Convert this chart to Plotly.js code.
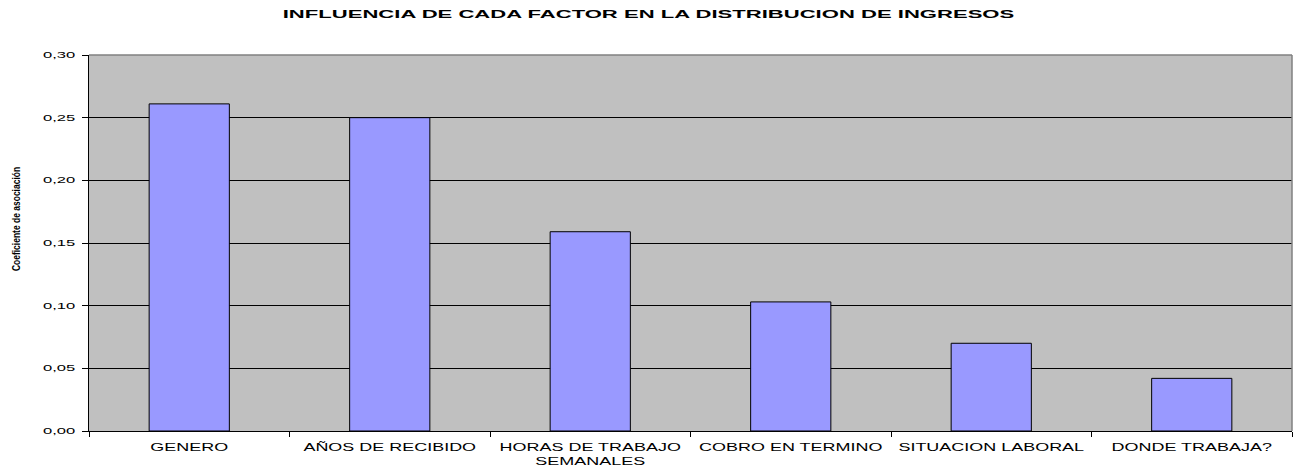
<!DOCTYPE html>
<html>
<head>
<meta charset="utf-8">
<script src="https://cdn.plot.ly/plotly-3.0.1.min.js"></script>
<style>
html,body{margin:0;padding:0;background:#fff;}
#chart{width:1297px;height:470px;}
</style>
</head>
<body>
<div id="chart"></div>
<script>
const chartTitle = "INFLUENCIA DE CADA FACTOR EN LA DISTRIBUCION DE INGRESOS";
const yTitle = "Coeficiente de asociación";
const categories = ["GENERO", "AÑOS DE RECIBIDO", "HORAS DE TRABAJO<br>SEMANALES", "COBRO EN TERMINO", "SITUACION LABORAL", "DONDE TRABAJA?"];
const coefValues = [0.261, 0.250, 0.159, 0.103, 0.070, 0.042];
const yTickVals = [0, 0.05, 0.10, 0.15, 0.20, 0.25, 0.30];

const FONT = "Liberation Sans, Arial, sans-serif";

const trace = {
  type: "bar",
  x: categories,
  y: coefValues,
  marker: {color: "#9999FF", line: {color: "#000000", width: 1}},
  hoverinfo: "skip"
};

const layout = {
  width: 1297, height: 470,
  margin: {l: 89, r: 5, t: 55, b: 39, pad: 0},
  paper_bgcolor: "#FFFFFF",
  plot_bgcolor: "#C0C0C0",
  separators: ", ",
  bargap: 0.6,
  showlegend: false,
  font: {family: FONT, color: "#000000", size: 11},
  title: {
    text: chartTitle,
    font: {family: FONT, size: 11.5, weight: "bold", color: "#000000"},
    x: 0.5, xanchor: "center",
    yref: "container", y: 1 - 14/470, yanchor: "middle"
  },
  xaxis: {
    type: "category",
    showgrid: false,
    showline: true, linecolor: "#000000", linewidth: 1,
    ticks: "outside", tickson: "boundaries", ticklen: 5, tickcolor: "#000000", tickwidth: 1,
    tickfont: {family: FONT, size: 10.7, color: "#000000"},
    ticklabelstandoff: 6,
    tickangle: 0,
    fixedrange: true
  },
  yaxis: {
    range: [0, 0.30],
    tickvals: yTickVals,
    tickformat: ".2f",
    showgrid: true, gridcolor: "#000000", gridwidth: 1,
    showline: true, linecolor: "#000000", linewidth: 1,
    zeroline: false,
    ticks: "outside", ticklen: 6, tickcolor: "#000000", tickwidth: 1,
    tickfont: {family: FONT, size: 8.5, color: "#000000"},
    ticklabelstandoff: 5,
    title: {
      text: yTitle,
      font: {family: FONT, size: 10, weight: "bold", color: "#000000"},
      standoff: 36
    },
    fixedrange: true
  },
  shapes: [
    {type: "line", xref: "paper", yref: "paper", x0: 0, x1: 1, y0: 1, y1: 1, line: {color: "#808080", width: 1.5}},
    {type: "line", xref: "paper", yref: "paper", x0: 1, x1: 1, y0: 0, y1: 1, line: {color: "#808080", width: 1.5}}
  ]
};

function stretchText(sel, sx) {
  document.querySelectorAll(sel).forEach(function (t) {
    if (t.dataset.stretched) return;
    const x = parseFloat(t.getAttribute("x") || "0");
    const tr = t.getAttribute("transform") || "";
    t.setAttribute("transform", tr + " translate(" + x + ",0) scale(" + sx + ",1) translate(" + (-x) + ",0)");
    t.dataset.stretched = "1";
  });
}

function squeezeYTitle(sx, shift) {
  const t = document.querySelector("#chart .ytitle");
  if (!t || t.dataset.stretched) return;
  const x = parseFloat(t.getAttribute("x") || "0");
  const y = parseFloat(t.getAttribute("y") || "0");
  const tr = t.getAttribute("transform") || "";
  t.setAttribute("transform", tr + " translate(" + (x + shift) + "," + y + ") scale(" + sx + ",1) translate(" + (-x) + "," + (-y) + ")");
  t.dataset.stretched = "1";
}

Plotly.newPlot("chart", [trace], layout, {displayModeBar: false, staticPlot: true}).then(function () {
  stretchText("#chart .xtick text", 1.68);
  stretchText("#chart .ytick text", 1.95);
  stretchText("#chart .gtitle", 1.92);
  squeezeYTitle(0.85, 24);
});
</script>
</body>
</html>
